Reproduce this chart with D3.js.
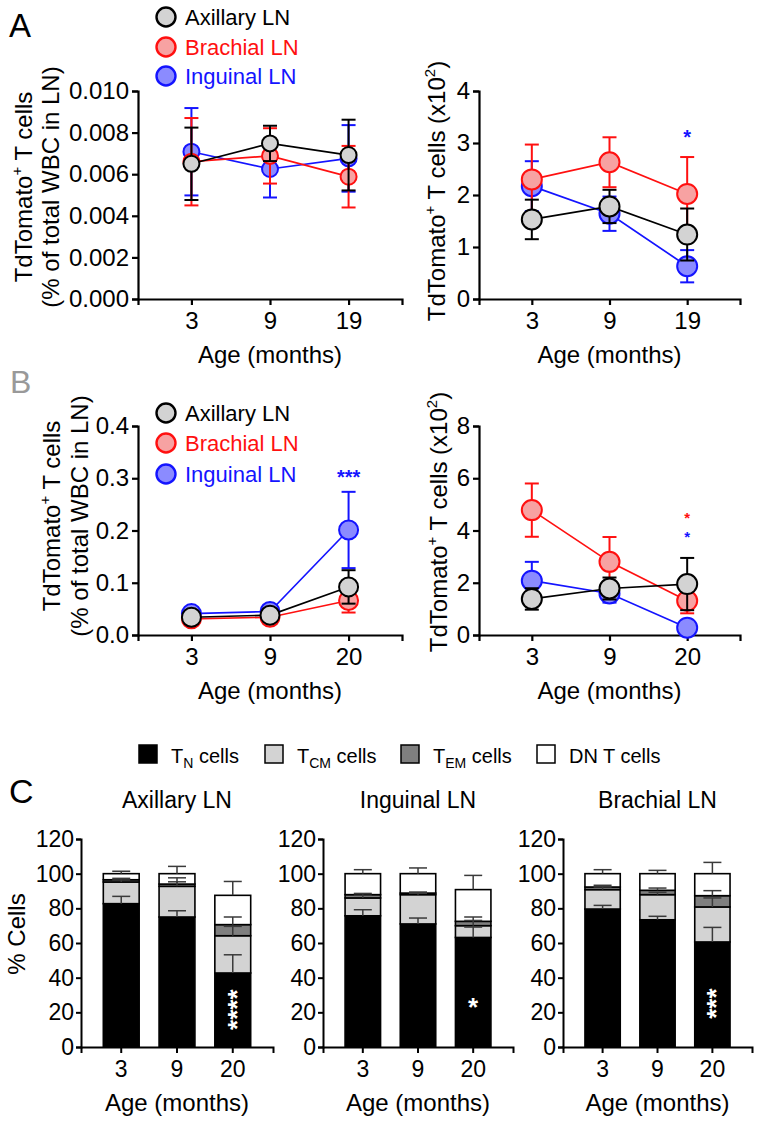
<!DOCTYPE html>
<html><head><meta charset="utf-8">
<script src="https://cdn.jsdelivr.net/npm/d3@7"></script>
<style>
body{margin:0;background:#fff}
svg{display:block}
text{font-family:"Liberation Sans",Arial,Helvetica,sans-serif}
</style>
</head><body>
<svg id="c" width="760" height="1124"></svg>
<script>
// ---------------- DATA ----------------
const agesA = ['3', '9', '19'];
const agesB = ['3', '9', '20'];
const lnNames = ['Axillary LN', 'Brachial LN', 'Inguinal LN'];

// Panel A left: % of total WBC in LN
const aPctAxillary = [0.0065, 0.00748, 0.00692];
const aPctAxillaryErr = [0.00174, 0.00085, 0.0017];
const aPctBrachial = [0.0066, 0.00688, 0.00588];
const aPctBrachialErr = [0.0021, 0.00133, 0.00148];
const aPctInguinal = [0.00708, 0.00625, 0.00676];
const aPctInguinalErr = [0.0021, 0.00137, 0.0016];

// Panel A right: cell counts (x10^2)
const aCntAxillary = [1.53, 1.78, 1.24];
const aCntAxillaryErr = [0.38, 0.32, 0.5];
const aCntBrachial = [2.30, 2.63, 2.02];
const aCntBrachialErr = [0.67, 0.48, 0.71];
const aCntInguinal = [2.17, 1.64, 0.63];
const aCntInguinalErr = [0.48, 0.33, 0.31];

// Panel B left
const bPctAxillary = [0.034, 0.038, 0.092];
const bPctAxillaryErr = [0.004, 0.004, 0.032];
const bPctBrachial = [0.031, 0.034, 0.066];
const bPctBrachialErr = [0.003, 0.003, 0.023];
const bPctInguinal = [0.041, 0.045, 0.201];
const bPctInguinalErr = [0.004, 0.005, 0.073];

// Panel B right
const bCntAxillary = [1.38, 1.78, 1.95];
const bCntAxillaryErr = [0.41, 0.42, 1.0];
const bCntBrachial = [4.78, 2.8, 1.31];
const bCntBrachialErr = [1.02, 0.95, 0.48];
const bCntInguinal = [2.08, 1.59, 0.28];
const bCntInguinalErr = [0.72, 0.35, 0.08];

// Tick values
const ticksAPct = [0, 0.002, 0.004, 0.006, 0.008, 0.010];
const ticksACnt = [0, 1, 2, 3, 4];
const ticksBPct = [0, 0.1, 0.2, 0.3, 0.4];
const ticksBCnt = [0, 2, 4, 6, 8];
const ticksC = [0, 20, 40, 60, 80, 100, 120];

// Panel C: subsets (% cells) per age [3, 9, 20]
const subsetKeys = ['TN', 'TCM', 'TEM', 'DN'];
const axTN = [82.7, 75.0, 42.7],  axTNErr = [4.2, 3.6, 10.5];
const axTCM = [12.5, 17.7, 21.5], axTCMErr = [1.2, 2.6, 5.4];
const axTEM = [1.3, 1.3, 6.4],    axTEMErr = [0.8, 3.6, 4.4];
const axDN = [3.5, 6.0, 16.9],    axDNErr = [1.4, 4.2, 8.0];

const inTN = [75.7, 71.0, 63.2],  inTNErr = [3.5, 3.4, 6.0];
const inTCM = [10.3, 16.9, 6.8],  inTCMErr = [1.5, 0.8, 3.0];
const inTEM = [1.9, 0.9, 2.5],    inTEMErr = [0.7, 0.6, 2.5];
const inDN = [12.1, 11.2, 18.3],  inDNErr = [2.3, 3.3, 8.2];

const brTN = [79.6, 73.4, 60.6],  brTNErr = [2.1, 2.0, 8.4];
const brTCM = [11.2, 14.5, 20.2], brTCMErr = [1.5, 1.4, 5.2];
const brTEM = [1.5, 2.5, 6.5],    brTEMErr = [1.0, 1.3, 2.9];
const brDN = [7.7, 9.6, 12.7],    brDNErr = [2.3, 1.9, 6.5];

// ---------------- STYLE ----------------
const FONT = '"Liberation Sans", Arial, Helvetica, sans-serif';
const colStroke = ['#000000', '#ff1010', '#1414ff'];
const colFill = ['#d3d3d3', '#f7a2a2', '#8b8bff'];
const subsetFill = ['#000000', '#d3d3d3', '#7f7f7f', '#ffffff'];

const svg = d3.select('#c');

function styleAxis(g, fs, sw) {
  g.attr('font-size', fs).attr('font-family', FONT);
  g.selectAll('path.domain').attr('stroke', '#000').attr('stroke-width', sw);
  g.selectAll('.tick line').attr('stroke', '#000').attr('stroke-width', sw);
  g.selectAll('.tick text').attr('fill', '#000');
}

function rotLabel(x, yc, fs, build) {
  const t = svg.append('text')
    .attr('transform', `translate(${x},${yc}) rotate(-90)`)
    .attr('text-anchor', 'middle').attr('font-size', fs).attr('fill', '#000');
  build(t);
}

function tdTomatoLabel(t) {
  t.append('tspan').text('TdTomato');
  t.append('tspan').attr('font-size', 15).attr('dy', -10).text('+');
  t.append('tspan').attr('dy', 10).text(' T cells');
}

function linePanel(o) {
  const x = d3.scalePoint().domain(o.cats).range([o.x0, o.x1]).padding(0.68);
  const y = d3.scaleLinear().domain([0, o.yMax]).range([o.yBot, o.yTop]);
  const gx = svg.append('g').attr('transform', `translate(0,${o.yBot})`)
    .call(d3.axisBottom(x).tickSizeOuter(0).tickSize(6).tickPadding(7));
  styleAxis(gx, 24, 2.2);
  const gy = svg.append('g').attr('transform', `translate(${o.x0},0)`)
    .call(d3.axisLeft(y).tickValues(o.ticks).tickFormat(d3.format(o.fmt)).tickSizeOuter(0).tickSize(6).tickPadding(3));
  styleAxis(gy, 24, 2.2);
  svg.append('text').attr('x', x(o.cats[1])).attr('y', o.yBot + 64)
    .attr('text-anchor', 'middle').attr('font-size', 24).text('Age (months)');
  const order = [2, 1, 0];
  order.forEach(si => {
    const s = o.series[si];
    const g = svg.append('g');
    const pts = o.cats.map((c, i) => ({c, v: s.vals[i], e: s.errs[i]}));
    pts.forEach(p => {
      const cx = x(p.c);
      g.append('line').attr('x1', cx).attr('x2', cx).attr('y1', y(p.v - p.e)).attr('y2', y(p.v + p.e))
        .attr('stroke', colStroke[si]).attr('stroke-width', 2);
      [p.v - p.e, p.v + p.e].forEach(vv => {
        g.append('line').attr('x1', cx - 7).attr('x2', cx + 7).attr('y1', y(vv)).attr('y2', y(vv))
          .attr('stroke', colStroke[si]).attr('stroke-width', 2);
      });
    });
    g.append('path').datum(pts)
      .attr('d', d3.line().x(p => x(p.c)).y(p => y(p.v)))
      .attr('fill', 'none').attr('stroke', colStroke[si]).attr('stroke-width', 1.7);
    g.selectAll('circle').data(pts).enter().append('circle')
      .attr('cx', p => x(p.c)).attr('cy', p => y(p.v)).attr('r', o.r)
      .attr('fill', colFill[si]).attr('stroke', colStroke[si]).attr('stroke-width', 2);
  });
  (o.stars || []).forEach(st => {
    const fs = st.fs || 20;
    svg.append('text').attr('x', x(st.cat)).attr('y', y(st.v) + fs * 0.55)
      .attr('text-anchor', 'middle').attr('font-size', fs).attr('font-weight', 'bold')
      .attr('fill', colStroke[st.s]).text(st.txt);
  });
}

function lineLegend(yc) {
  lnNames.forEach((n, i) => {
    const cy = yc[i];
    svg.append('circle').attr('cx', 166).attr('cy', cy).attr('r', 9.5)
      .attr('fill', colFill[i]).attr('stroke', colStroke[i]).attr('stroke-width', 2.4);
    svg.append('text').attr('x', 185).attr('y', cy + 8).attr('font-size', 22)
      .attr('fill', colStroke[i]).text(n);
  });
}

// ---------------- PANEL A ----------------
svg.append('text').attr('x', 9).attr('y', 37).attr('font-size', 33).text('A');
lineLegend([17, 47, 76]);
linePanel({
  x0: 138, x1: 402, yTop: 91, yBot: 299, cats: agesA, yMax: 0.010, ticks: ticksAPct, fmt: '.3f', r: 8,
  series: [
    {vals: aPctAxillary, errs: aPctAxillaryErr},
    {vals: aPctBrachial, errs: aPctBrachialErr},
    {vals: aPctInguinal, errs: aPctInguinalErr}
  ]
});
rotLabel(32, 187, 24, tdTomatoLabel);
rotLabel(59, 187, 24, t => t.text('(% of total WBC in LN)'));

linePanel({
  x0: 479, x1: 740, yTop: 91, yBot: 299, cats: agesA, yMax: 4, ticks: ticksACnt, fmt: 'd', r: 10,
  series: [
    {vals: aCntAxillary, errs: aCntAxillaryErr},
    {vals: aCntBrachial, errs: aCntBrachialErr},
    {vals: aCntInguinal, errs: aCntInguinalErr}
  ],
  stars: [{cat: '19', v: 3.2, s: 2, txt: '*'}]
});
rotLabel(445, 191, 24, t => {
  tdTomatoLabel(t);
  t.append('tspan').text(' (x10');
  t.append('tspan').attr('font-size', 15).attr('dy', -10).text('2');
  t.append('tspan').attr('dy', 10).text(')');
});

// ---------------- PANEL B ----------------
svg.append('text').attr('x', 10).attr('y', 393).attr('font-size', 32).attr('fill', '#999').text('B');
lineLegend([413, 443, 474]);
linePanel({
  x0: 138, x1: 402, yTop: 426, yBot: 635, cats: agesB, yMax: 0.4, ticks: ticksBPct, fmt: '.1f', r: 9.5,
  series: [
    {vals: bPctAxillary, errs: bPctAxillaryErr},
    {vals: bPctBrachial, errs: bPctBrachialErr},
    {vals: bPctInguinal, errs: bPctInguinalErr}
  ],
  stars: [{cat: '20', v: 0.31, s: 2, txt: '***'}]
});
rotLabel(59.5, 516, 24, tdTomatoLabel);
rotLabel(88, 516, 24, t => t.text('(% of total WBC in LN)'));

linePanel({
  x0: 479, x1: 740, yTop: 426, yBot: 635, cats: agesB, yMax: 8, ticks: ticksBCnt, fmt: 'd', r: 10,
  series: [
    {vals: bCntAxillary, errs: bCntAxillaryErr},
    {vals: bCntBrachial, errs: bCntBrachialErr},
    {vals: bCntInguinal, errs: bCntInguinalErr}
  ],
  stars: [{cat: '20', v: 4.6, s: 1, txt: '*', fs: 15}, {cat: '20', v: 3.86, s: 2, txt: '*', fs: 15}]
});
rotLabel(447, 522, 24, t => {
  tdTomatoLabel(t);
  t.append('tspan').text(' (x10');
  t.append('tspan').attr('font-size', 15).attr('dy', -10).text('2');
  t.append('tspan').attr('dy', 10).text(')');
});

// ---------------- PANEL C ----------------
svg.append('text').attr('x', 9).attr('y', 803).attr('font-size', 34).text('C');

const legLabels = [['T', 'N', ' cells'], ['T', 'CM', ' cells'], ['T', 'EM', ' cells'], ['DN T cells', '', '']];
const legX = [139, 265, 401, 537];
legLabels.forEach((lab, i) => {
  svg.append('rect').attr('x', legX[i]).attr('y', 745).attr('width', 18).attr('height', 18)
    .attr('fill', subsetFill[i]).attr('stroke', '#000').attr('stroke-width', 1.5);
  const t = svg.append('text').attr('x', legX[i] + 32).attr('y', 763).attr('font-size', 20);
  t.append('tspan').text(lab[0]);
  if (lab[1]) {
    t.append('tspan').attr('font-size', 14).attr('dy', 5).text(lab[1]);
    t.append('tspan').attr('dy', -5).text(lab[2]);
  }
});

function barPanel(o) {
  const x = d3.scaleBand().domain(agesB).range([o.x0, o.x1]).paddingInner(0.357).paddingOuter(0.4);
  const y = d3.scaleLinear().domain([0, 120]).range([1047, 839]);
  const table = agesB.map((a, i) => {
    const row = {age: a};
    subsetKeys.forEach((k, j) => { row[k] = o.vals[j][i]; row[k + 'E'] = o.errs[j][i]; });
    return row;
  });
  const stacked = d3.stack().keys(subsetKeys)(table);
  stacked.forEach((layer, j) => {
    svg.append('g').selectAll('rect').data(layer).enter().append('rect')
      .attr('x', d => x(d.data.age)).attr('width', x.bandwidth())
      .attr('y', d => y(d[1])).attr('height', d => y(d[0]) - y(d[1]))
      .attr('fill', subsetFill[j]).attr('stroke', '#000').attr('stroke-width', 1.6);
  });
  stacked.forEach((layer, j) => {
    layer.forEach(d => {
      const cx = x(d.data.age) + x.bandwidth() / 2;
      const e = d.data[subsetKeys[j] + 'E'];
      svg.append('line').attr('x1', cx).attr('x2', cx).attr('y1', y(d[1])).attr('y2', y(d[1] + e))
        .attr('stroke', '#3a3a3a').attr('stroke-width', 1.5);
      svg.append('line').attr('x1', cx - 9).attr('x2', cx + 9).attr('y1', y(d[1] + e)).attr('y2', y(d[1] + e))
        .attr('stroke', '#3a3a3a').attr('stroke-width', 1.5);
    });
  });
  const gx = svg.append('g').attr('transform', 'translate(0,1047)')
    .call(d3.axisBottom(x).tickSizeOuter(0).tickSize(6).tickPadding(8));
  styleAxis(gx, 23, 2);
  const gy = svg.append('g').attr('transform', `translate(${o.x0},0)`)
    .call(d3.axisLeft(y).tickValues(ticksC).tickSizeOuter(0).tickSize(5).tickPadding(2));
  styleAxis(gy, 23, 2);
  svg.append('text').attr('x', (o.x0 + o.x1) / 2).attr('y', 808).attr('text-anchor', 'middle')
    .attr('font-size', 23).text(o.title);
  svg.append('text').attr('x', x('9') + x.bandwidth() / 2).attr('y', 1111).attr('text-anchor', 'middle')
    .attr('font-size', 24).text('Age (months)');
  const sx = x('20') + x.bandwidth() / 2;
  if (o.stars.length > 1) {
    svg.append('text').attr('transform', `translate(${sx + 13},${y(o.starV)}) rotate(-90)`)
      .attr('text-anchor', 'middle').attr('font-size', 26).attr('font-weight', 'bold')
      .attr('fill', '#fff').text(o.stars);
  } else {
    svg.append('text').attr('x', sx).attr('y', y(o.starV) + 14)
      .attr('text-anchor', 'middle').attr('font-size', 26).attr('font-weight', 'bold')
      .attr('fill', '#fff').text(o.stars);
  }
}

barPanel({x0: 81, x1: 273, title: 'Axillary LN',
  vals: [axTN, axTCM, axTEM, axDN], errs: [axTNErr, axTCMErr, axTEMErr, axDNErr], stars: '****', starV: 21.5});
barPanel({x0: 323, x1: 513, title: 'Inguinal LN',
  vals: [inTN, inTCM, inTEM, inDN], errs: [inTNErr, inTCMErr, inTEMErr, inDNErr], stars: '*', starV: 26});
barPanel({x0: 563, x1: 752, title: 'Brachial LN',
  vals: [brTN, brTCM, brTEM, brDN], errs: [brTNErr, brTCMErr, brTEMErr, brDNErr], stars: '***', starV: 25});
rotLabel(25, 934, 24, t => t.text('% Cells'));
</script>
</body></html>
